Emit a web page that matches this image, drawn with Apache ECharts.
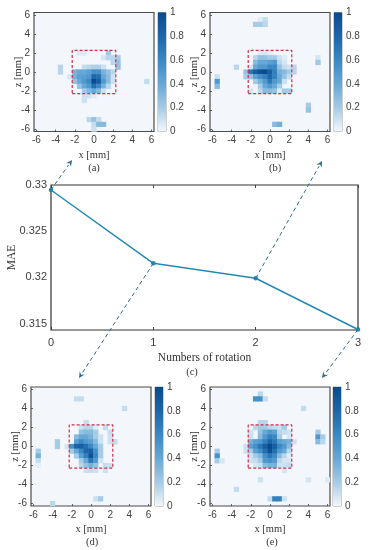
<!DOCTYPE html>
<html>
<head>
<meta charset="utf-8">
<style>
html, body { margin: 0; padding: 0; background: #fff; }
#main { width: 369px; height: 550px; }
</style>
<script src="https://cdn.jsdelivr.net/npm/echarts@6/dist/echarts.min.js"></script>
</head>
<body>
<div id="main"></div>
<script>
// heat map cells, [x mm, z mm, value]
var cellsA = [
	[-1.5,2,.06],[-1,2,.06],[1.5,2,.22],
	[1,1.5,.08],[1.5,1.5,.15],[2,1.5,.15],[2.5,1.5,.2],
	[2,1,.15],[2.5,1,.25],
	[-1,.5,.12],[-.5,.5,.15],[0,.5,.18],[.5,.5,.18],[1,.5,.1],[2.5,.5,.25],[-3.5,.5,.15],
	[-2,0,.35],[-1.5,0,.4],[-1,0,.4],[-.5,0,.45],[0,0,.55],[.5,0,.55],[1,0,.35],[1.5,0,.25],[2,0,.15],[-3.5,0,.15],
	[-2.5,-.5,.08],[-2,-.5,.35],[-1.5,-.5,.45],[-1,-.5,.45],[-.5,-.5,.5],[0,-.5,.8],[.5,-.5,.75],[1,-.5,.4],[1.5,-.5,.3],[2,-.5,.1],
	[-2,-1,.25],[-1.5,-1,.4],[-1,-1,.5],[-.5,-1,.6],[0,-1,1],[.5,-1,.85],[1,-1,.5],[1.5,-1,.3],[2,-1,.1],[5.5,-1,.12],
	[-1.5,-1.5,.25],[-1,-1.5,.4],[-.5,-1.5,.5],[0,-1.5,.75],[.5,-1.5,.6],[1,-1.5,.35],[1.5,-1.5,.15],
	[-1,-2,.2],[-.5,-2,.3],[0,-2,.4],[.5,-2,.3],[1,-2,.1],
	[-1,-2.5,.1],[-.5,-2.5,.1],[0,-2.5,.05],[-1,-3,.1],
	[-.5,-5,.15],[0,-5,.25],[.5,-5,.12],[0,-5.5,.12],[.5,-5.5,.3],[1,-5.5,.3],[0,-6,.1]
];
var cellsB = [
	[-1,5.5,.05],[-.5,5.5,.12],[-1.5,5,.2],[-1,5,.2],[-.5,5,.15],
	[-1,2,.06],[-.5,2,.08],[0,2,.05],
	[-1.5,1.5,.15],[-1,1.5,.25],[-.5,1.5,.25],[0,1.5,.2],[.5,1.5,.2],[1,1.5,.1],[1.5,1.5,.05],[5,1.5,.08],
	[-1.5,1,.3],[-1,1,.4],[-.5,1,.4],[0,1,.45],[.5,1,.5],[1,1,.15],[1.5,1,.08],[5,1,.22],
	[-2,.5,.08],[-1.5,.5,.4],[-1,.5,.5],[-.5,.5,.5],[0,.5,.6],[.5,.5,.6],[1,.5,.25],[1.5,.5,.12],[2,.5,.1],[2.5,.5,.15],[-3.5,.5,.15],
	[-2.5,0,.25],[-2,0,.7],[-1.5,0,.85],[-1,0,.95],[-.5,0,1],[0,0,.85],[.5,0,.65],[1,0,.35],[1.5,0,.3],[2,0,.2],[2.5,0,.15],
	[-2.5,-.5,.2],[-2,-.5,.25],[-1.5,-.5,.45],[-1,-.5,.55],[-.5,-.5,.65],[0,-.5,.8],[.5,-.5,.65],[1,-.5,.4],[1.5,-.5,.25],[2,-.5,.12],[-5.5,-.5,.1],
	[-1.5,-1,.2],[-1,-1,.35],[-.5,-1,.5],[0,-1,.7],[.5,-1,.5],[1,-1,.4],[1.5,-1,.1],[-5.5,-1,.5],
	[-1,-1.5,.2],[-.5,-1.5,.4],[0,-1.5,.5],[.5,-1.5,.4],[1,-1.5,.2],[-5.5,-1.5,.3],
	[-2,-2,.08],[-1,-2,.15],[-.5,-2,.3],[0,-2,.3],[.5,-2,.25],[1,-2,.05],[1.5,-2,.2],[2,-2,.2],
	[4,-3.5,.2],[4,-4,.25],[.5,-5.5,.3],[1,-5.5,.35]
];
var cellsD = [
	[-1.5,5,.12],[-1,5,.12],[3.5,4,.12],[-.5,2.5,.12],
	[-1,2,.1],[-.5,2,.15],[0,2,.15],[.5,2,.05],[1.5,2,.12],
	[-1,1.5,.25],[-.5,1.5,.3],[0,1.5,.3],[.5,1.5,.2],[2,1.5,.12],
	[-1.5,1,.3],[-1,1,.4],[-.5,1,.4],[0,1,.35],[.5,1,.2],[1,1,.1],[2,1,.1],
	[-3.5,.5,.2],[-1.5,.5,.45],[-1,.5,.6],[-.5,.5,.5],[0,.5,.45],[.5,.5,.3],[1,.5,.1],[2,.5,.1],[2.5,.5,.12],
	[-3.5,0,.2],[-2.5,0,.08],[-2,0,.55],[-1.5,0,.8],[-1,0,.85],[-.5,0,.75],[0,0,.6],[.5,0,.4],[1,0,.2],
	[-5.5,-.5,.2],[-2,-.5,.2],[-1.5,-.5,.4],[-1,-.5,.6],[-.5,-.5,.8],[0,-.5,.85],[.5,-.5,.55],[1,-.5,.2],
	[-5.5,-1,.35],[-1.5,-1,.2],[-1,-1,.45],[-.5,-1,.65],[0,-1,.95],[.5,-1,.6],[1,-1,.2],
	[-5.5,-1.5,.12],[-1,-1.5,.2],[-.5,-1.5,.4],[0,-1.5,.7],[.5,-1.5,.5],[1,-1.5,.1],
	[-5.5,-2,.04],[-1,-2,.15],[-.5,-2,.25],[0,-2,.35],[.5,-2,.25],[1.5,-2,.12],[2,-2,.1],
	[-.5,-2.5,.1],[0,-2.5,.12],[.5,-2.5,.1],[1.5,-2.5,.1],
	[.5,-5.5,.1],[1,-5.5,.2],[-4,-6,.15]
];
var cellsE = [
	[-1,5.5,.15],[-1.5,5,.55],[-1,5,.55],[-.5,5,.12],[3.5,4,.12],
	[-1,2.5,.15],[-.5,2.5,.15],
	[-1.5,2,.15],[-1,2,.2],[-.5,2,.2],[0,2,.15],[.5,2,.12],[1,2,.1],[1.5,2,.2],
	[-2,1.5,.1],[-1,1.5,.25],[-.5,1.5,.4],[0,1.5,.5],[.5,1.5,.45],[1,1.5,.15],[1.5,1.5,.12],[2,1.5,.1],[5,1.5,.2],
	[-2,1,.1],[-1,1,.3],[-.5,1,.5],[0,1,.65],[.5,1,.6],[1,1,.2],[2,1,.08],[5,1,.5],[5.5,1,.2],
	[-2,.5,.35],[-1.5,.5,.45],[-1,.5,.5],[-.5,.5,.65],[0,.5,.8],[.5,.5,.7],[1,.5,.45],[1.5,.5,.4],[2,.5,.35],[2.5,.5,.1],[5,.5,.3],[5.5,.5,.15],
	[-2.5,0,.1],[-2,0,.45],[-1.5,0,.55],[-1,0,.7],[-.5,0,.85],[0,0,1],[.5,0,.85],[1,0,.6],[1.5,0,.5],[2,0,.3],
	[-5.5,-.5,.2],[-2.5,-.5,.1],[-2,-.5,.2],[-1.5,-.5,.45],[-1,-.5,.55],[-.5,-.5,.75],[0,-.5,.95],[.5,-.5,.75],[1,-.5,.5],[1.5,-.5,.4],[2,-.5,.15],
	[-5.5,-1,.55],[-2,-1,.1],[-1.5,-1,.2],[-1,-1,.3],[-.5,-1,.55],[0,-1,.7],[.5,-1,.6],[1,-1,.3],[1.5,-1,.15],[2,-1,.05],
	[-5.5,-1.5,.2],[-5,-1.5,.08],[-2,-1.5,.1],[-1.5,-1.5,.12],[-1,-1.5,.2],[-.5,-1.5,.5],[0,-1.5,.55],[.5,-1.5,.5],[1,-1.5,.15],[1.5,-1.5,.08],[2,-1.5,.08],
	[-1.5,-2,.08],[-1,-2,.1],[-.5,-2,.3],[0,-2,.35],[.5,-2,.35],[1,-2,.1],[1.5,-2,.1],[2,-2,.12],[1.5,-2.5,.08],
	[-1,-3.5,.1],[4,-3.5,.08],[6,-3.5,.06],[-3.5,-4.5,.12],
	[0,-5.5,.12],[.5,-5.5,.65],[1,-5.5,.65],[1.5,-5.5,.1]
];

// dashed box drawn in every heat map, mm
var boxX = [-2.27, 2.27, 2.27, -2.27, -2.27];
var boxZ = [-2.27, -2.27, 2.27, 2.27, -2.27];

var cellCenters = ["-6","-5.5","-5","-4.5","-4","-3.5","-3","-2.5","-2","-1.5","-1","-0.5","0","0.5","1","1.5","2","2.5","3","3.5","4","4.5","5","5.5","6"];
var mmTicks = [-6, -4, -2, 0, 2, 4, 6];

// lower panel, MAE per number of rotations
var rotations = ["0", "1", "2", "3"];
var maeValues = [0.32946, 0.32152, 0.3199, 0.31435];
var maeTicks = [0.315, 0.32, 0.325, 0.33];

var blues = ["#f3f7fb", "#a5cbe6", "#66a8d6", "#3a88c4", "#1c66a9", "#0a4a8e"];

var TICK_COLOR = "#404040";
var SANS = "Liberation Sans";
var SERIF = "Liberation Serif";

// pixel box of each panel: left, top, colour bar left, caption
var panels = [
	{ cells: cellsA, left: 34, top: 12.5, barLeft: 158, cap: "(a)", capX: 94, capY: 168 },
	{ cells: cellsB, left: 210, top: 12.5, barLeft: 334, cap: "(b)", capX: 275, capY: 168 },
	{ cells: cellsD, left: 31, top: 387, barLeft: 155, cap: "(d)", capX: 92, capY: 542 },
	{ cells: cellsE, left: 210, top: 387, barLeft: 333, cap: "(e)", capX: 272, capY: 542 }
];

var option = {
	animation: false,
	backgroundColor: "#fff",
	grid: [], xAxis: [], yAxis: [], series: [],
	visualMap: {
		show: false, type: "continuous", min: 0, max: 1, seriesIndex: [],
		inRange: { color: blues }
	},
	graphic: []
};

function hiddenCellAxis(gridIndex, position) {
	return {
		type: "category", gridIndex: gridIndex, position: position, data: cellCenters,
		axisLine: { show: false }, axisLabel: { show: false },
		axisTick: { alignWithLabel: true, interval: 3, inside: true, length: 2, lineStyle: { color: TICK_COLOR, width: 0.8 } },
		splitLine: { show: false }
	};
}

function mmAxis(gridIndex, position, name, nameGap) {
	return {
		type: "value", gridIndex: gridIndex, position: position, min: -6.25, max: 6.25,
		name: name, nameLocation: "middle", nameGap: nameGap, nameMoveOverlap: false,
		nameTextStyle: { fontFamily: SERIF, fontSize: 10.5, color: "#333" },
		axisLine: { show: false }, splitLine: { show: false },
		axisTick: { inside: true, length: 2, customValues: mmTicks, lineStyle: { color: TICK_COLOR, width: 0.8 } },
		axisLabel: { customValues: mmTicks, fontFamily: SANS, fontSize: 10, color: TICK_COLOR, margin: 4 }
	};
}

function addPanel(p) {
	var g = option.grid.length;
	var xStart = option.xAxis.length;
	var yStart = option.yAxis.length;

	option.grid.push({
		show: true, left: p.left, top: p.top, width: 120, height: 119, outerBoundsMode: "none",
		backgroundColor: blues[0], borderColor: "#4a4a4a", borderWidth: 1.2
	});
	option.xAxis.push(hiddenCellAxis(g, "top"), mmAxis(g, "bottom", "x [mm]", 18));
	option.yAxis.push(hiddenCellAxis(g, "right"), mmAxis(g, "left", "z [mm]", 10));

	var data = [];
	p.cells.forEach(function(c) {
		data.push([(c[0] + 6) * 2, (c[1] + 6) * 2, c[2]]);
	});
	option.visualMap.seriesIndex.push(option.series.length);
	option.series.push({
		type: "heatmap", xAxisIndex: xStart, yAxisIndex: yStart, data: data,
		itemStyle: { borderWidth: 0 }, emphasis: { disabled: true }
	});

	var box = [];
	boxX.forEach(function(x, i) { box.push([x, boxZ[i]]); });
	option.series.push({
		type: "line", xAxisIndex: xStart + 1, yAxisIndex: yStart + 1, data: box,
		symbol: "none", lineStyle: { color: "#cc3048", width: 1.2, type: [3, 2] }, z: 5
	});

	// colour bar, one bar filled with the same ramp
	var gb = option.grid.length;
	option.grid.push({
		show: true, left: p.barLeft, top: p.top, width: 8, height: 119, outerBoundsMode: "none",
		borderColor: "#8c8c8c", borderWidth: 0.8
	});
	option.xAxis.push({ type: "category", gridIndex: gb, data: ["c"], show: false });
	option.yAxis.push({
		type: "value", gridIndex: gb, position: "right", min: 0, max: 1, interval: 0.2,
		axisLine: { show: false }, splitLine: { show: false },
		axisTick: { inside: true, length: 1.5, lineStyle: { color: "#666", width: 0.6 } },
		axisLabel: { fontFamily: SANS, fontSize: 10, color: TICK_COLOR, margin: 4 }
	});
	var stops = [];
	blues.forEach(function(col, i) { stops.push({ offset: i / (blues.length - 1), color: col }); });
	option.series.push({
		type: "bar", xAxisIndex: option.xAxis.length - 1, yAxisIndex: option.yAxis.length - 1,
		data: [1], barWidth: "100%", silent: true,
		itemStyle: { color: new echarts.graphic.LinearGradient(0, 1, 0, 0, stops) }
	});

	option.graphic.push({
		type: "text", x: p.capX, y: p.capY,
		style: { text: p.cap, fontFamily: SERIF, fontSize: 10.5, fill: "#333", align: "center", verticalAlign: "middle" }
	});
}

panels.forEach(addPanel);

// line panel in the middle
var lineGrid = option.grid.length;
var lineX = option.xAxis.length;
var lineY = option.yAxis.length;
option.grid.push({
	show: true, left: 51, top: 185, width: 307, height: 145, outerBoundsMode: "none",
	borderColor: "#333", borderWidth: 1.2
});
option.xAxis.push(
	{
		type: "category", gridIndex: lineGrid, position: "bottom", data: rotations, boundaryGap: false,
		name: "Numbers of rotation", nameLocation: "middle", nameGap: 22, nameMoveOverlap: false,
		nameTextStyle: { fontFamily: SERIF, fontSize: 11.5, color: "#333" },
		axisLine: { show: false }, splitLine: { show: false },
		axisTick: { inside: true, length: 3, lineStyle: { color: TICK_COLOR } },
		axisLabel: { fontFamily: SANS, fontSize: 11, color: TICK_COLOR, margin: 7, showMinLabel: true, showMaxLabel: true }
	},
	{
		type: "category", gridIndex: lineGrid, position: "top", data: rotations, boundaryGap: false,
		axisLine: { show: false }, splitLine: { show: false }, axisLabel: { show: false },
		axisTick: { inside: true, length: 3, lineStyle: { color: TICK_COLOR } }
	}
);
option.yAxis.push(
	{
		type: "value", gridIndex: lineGrid, position: "left", min: 0.3143, max: 0.33,
		name: "MAE", nameLocation: "middle", nameGap: 33, nameMoveOverlap: false,
		nameTextStyle: { fontFamily: SERIF, fontSize: 11.5, color: "#333" },
		axisLine: { show: false }, splitLine: { show: false },
		axisTick: { inside: true, length: 3, customValues: maeTicks, lineStyle: { color: TICK_COLOR } },
		axisLabel: { customValues: maeTicks, fontFamily: SANS, fontSize: 11, color: TICK_COLOR, margin: 4 }
	},
	{
		type: "value", gridIndex: lineGrid, position: "right", min: 0.3143, max: 0.33,
		axisLine: { show: false }, splitLine: { show: false }, axisLabel: { show: false },
		axisTick: { inside: true, length: 3, customValues: maeTicks, lineStyle: { color: TICK_COLOR } }
	}
);
option.series.push({
	type: "line", xAxisIndex: lineX, yAxisIndex: lineY, data: maeValues, clip: false,
	symbol: "circle", symbolSize: 4.5,
	lineStyle: { color: "#2389b2", width: 1.5 }, itemStyle: { color: "#2389b2" }
});
option.graphic.push({
	type: "text", x: 192, y: 372,
	style: { text: "(c)", fontFamily: SERIF, fontSize: 10.5, fill: "#333", align: "center", verticalAlign: "middle" }
});

var chart = echarts.init(document.getElementById("main"), null, { renderer: "canvas" });
chart.setOption(option);

/**
 * Dashed arrow from a point of the line to its heat map.
 */
function arrowFrom(pointIndex, tipX, tipY) {
	var from = chart.convertToPixel({ xAxisIndex: lineX, yAxisIndex: lineY }, [pointIndex, maeValues[pointIndex]]);
	var dx = tipX - from[0], dy = tipY - from[1];
	var len = Math.sqrt(dx * dx + dy * dy);
	var ux = dx / len, uy = dy / len;
	var color = "#2c6c8c";
	var backX = tipX - ux * 6, backY = tipY - uy * 6;
	return [
		{
			type: "line", z: 20,
			shape: { x1: from[0], y1: from[1], x2: backX, y2: backY },
			style: { stroke: color, lineWidth: 1, lineDash: [4, 3] }
		},
		{
			type: "polygon", z: 20,
			shape: { points: [[tipX, tipY], [backX - uy * 3, backY + ux * 3], [tipX - ux * 4, tipY - uy * 4], [backX + uy * 3, backY - ux * 3]] },
			style: { fill: color }
		}
	];
}

var arrows = [].concat(
	arrowFrom(0, 72, 160),
	arrowFrom(2, 322, 161),
	arrowFrom(1, 79, 378),
	arrowFrom(3, 322, 378)
);
chart.setOption({ graphic: option.graphic.concat(arrows) });
</script>
</body>
</html>
